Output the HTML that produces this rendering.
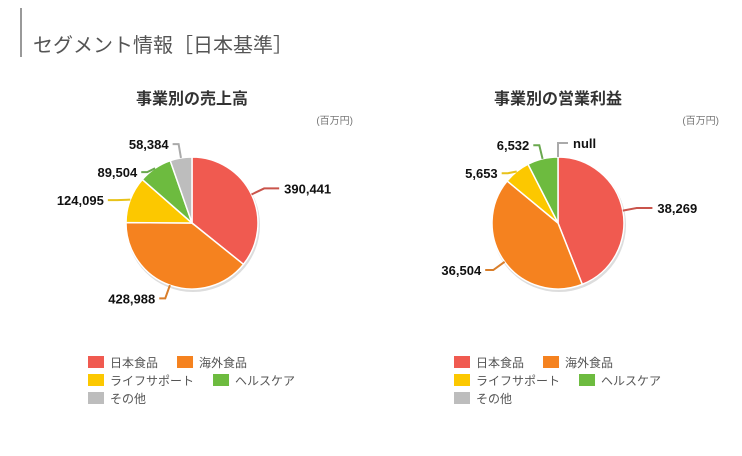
<!DOCTYPE html>
<html><head><meta charset="utf-8">
<style>
body{margin:0;background:#fff;width:742px;height:451px;overflow:hidden;font-family:"Liberation Sans","Noto Sans CJK JP",sans-serif;}
svg text{font-family:"Liberation Sans","Noto Sans CJK JP",sans-serif;}
</style></head>
<body>
<svg id="chart" width="742" height="451" xmlns="http://www.w3.org/2000/svg">
  <rect x="20" y="8" width="2" height="49" fill="#999"/>
  <text x="33" y="52" font-size="20" fill="#555">セグメント情報［日本基準］</text>
  <text x="192" y="104" font-size="16" font-weight="bold" fill="#333" text-anchor="middle">事業別の売上高</text>
  <text x="558" y="104" font-size="16" font-weight="bold" fill="#333" text-anchor="middle">事業別の営業利益</text>
  <text x="353" y="124" font-size="10" fill="#777" text-anchor="end">(百万円)</text>
  <text x="719" y="124" font-size="10" fill="#777" text-anchor="end">(百万円)</text>
  <g id="pies"></g>
  <g id="legends"></g>
</svg>
<script>
const categories = ["日本食品","海外食品","ライフサポート","ヘルスケア","その他"];
const colors = ["#f05a50","#f5821f","#fcc800","#6dbb3f","#bdbdbd"];
const salesValues = [390441,428988,124095,89504,58384];
const profitValues = [38269,36504,5653,6532,null];
const lineColors = ["#c9544b","#d97e2a","#e8c21a","#6aa84f","#aaaaaa"];

const NS="http://www.w3.org/2000/svg";
function mk(tag,attrs,parent){const e=document.createElementNS(NS,tag);for(const k in attrs)e.setAttribute(k,attrs[k]);parent.appendChild(e);return e;}
function fmt(v){return v===null?"null":v.toLocaleString("en-US");}
function pt(cx,cy,r,a){return [cx+r*Math.sin(a),cy-r*Math.cos(a)];}

function drawPie(values,cx,cy,r,prefix){
  const g=document.getElementById("pies");
  const total=values.reduce((s,v)=>s+(v||0),0);
  let start=0;
  mk("circle",{cx:cx+1,cy:cy+2,r:r+1,fill:"#ddd"},g);
  const labels=[];
  values.forEach((v,i)=>{
    const val=v||0;
    const ang=val/total*2*Math.PI;
    const end=start+ang;
    if(val>0){
      const [x1,y1]=pt(cx,cy,r,start),[x2,y2]=pt(cx,cy,r,end);
      const p=mk("path",{d:`M${cx},${cy} L${x1},${y1} A${r},${r} 0 ${ang>Math.PI?1:0} 1 ${x2},${y2} Z`,fill:colors[i],stroke:"#fff","stroke-width":1.5},g);
      
      
    }
    const mid=(start+ang/2)%(2*Math.PI);
    const right=Math.sin(mid)>=-1e-9;
    const [ex,ey]=pt(cx,cy,r,mid),[bx,by]=pt(cx,cy,r+14,mid),[lx]=pt(cx,cy,r+24,mid);
    labels.push({i,v,right,ex,ey,bx,by,lx,y:by});
    start=end;
  });
  [true,false].forEach(side=>{
    const L=labels.filter(l=>l.right===side).sort((a,b)=>a.by-b.by);
    let prev=cy-r-100;
    L.forEach(l=>{l.y=Math.max(l.by,prev+28,cy-r-22);prev=l.y;});
  });
  labels.forEach(l=>{
    const hx=l.right?Math.max(l.lx+6,l.bx+10):Math.min(l.lx,l.bx-6);
    const ln=mk("polyline",{points:`${l.ex},${l.ey} ${l.bx},${l.y} ${hx},${l.y}`,fill:"none",stroke:lineColors[l.i],"stroke-width":2},g);
    
    
    const t=mk("text",{x:l.right?hx+5:hx-4,y:l.y+5,"font-size":13,"font-weight":"bold",fill:"#111","text-anchor":l.right?"start":"end"},g);
    t.textContent=fmt(l.v);
    
    
  });
}
drawPie(salesValues,192,223,66,"sales");
drawPie(profitValues,558,223,66,"profit");

function drawLegend(x0,prefix){
  const g=document.getElementById("legends");
  const rows=[356,374,392];
  let x=x0;
  categories.forEach((c,i)=>{
    const y=rows[Math.floor(i/2)];
    if(i%2===0) x=x0;
    const s=mk("rect",{x:x,y:y,width:16,height:12,fill:colors[i]},g);
    
    
    const t=mk("text",{x:x+22,y:y+11,"font-size":12,fill:"#555"},g);
    t.textContent=c;
    
    
    x=x+22+t.getComputedTextLength()+19;
  });
}
drawLegend(88,"sales");
drawLegend(454,"profit");
</script>
</body></html>
